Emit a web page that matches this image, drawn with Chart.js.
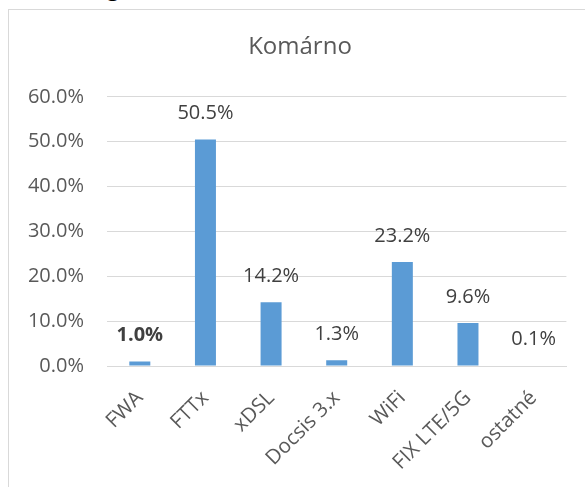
<!DOCTYPE html>
<html>
<head>
<meta charset="utf-8">
<script src="https://cdn.jsdelivr.net/npm/chart.js@4/dist/chart.umd.min.js"></script>
<style>
  html,body{margin:0;padding:0;background:#fff;overflow:hidden;width:585px;height:487px;}
  #frame{position:absolute;left:8px;top:9px;width:700px;height:600px;border:1px solid #d9d9d9;box-sizing:border-box;}
  #cut{position:absolute;left:107px;top:-28px;font-family:"Open Sans",sans-serif;font-size:22px;line-height:30px;color:#000;}
  #c{position:absolute;left:0;top:0;}
</style>
</head>
<body>
<div id="cut">g</div>
<div id="frame"></div>
<canvas id="c" width="571" height="487"></canvas>
<script>
const categories = ["FWA", "FTTx", "xDSL", "Docsis 3.x", "WiFi", "FIX LTE/5G", "ostatné"];
const shares = [1.0, 50.5, 14.2, 1.3, 23.2, 9.6, 0.1];
const boldLabels = [true, false, false, false, false, false, false];
const chartTitle = "Komárno";

const FONT = "'Open Sans', sans-serif";

const valueLabels = {
  id: 'valueLabels',
  afterDatasetsDraw(chart) {
    const ctx = chart.ctx;
    const meta = chart.getDatasetMeta(0);
    ctx.save();
    ctx.textAlign = 'center';
    ctx.textBaseline = 'middle';
    ctx.fillStyle = '#404040';
    meta.data.forEach((bar, i) => {
      ctx.font = (boldLabels[i] ? 'bold ' : '') + '20px ' + FONT;
      ctx.fillText(shares[i].toFixed(1) + '%', bar.x, bar.y - 26);
    });
    ctx.restore();
  }
};

const titleShift = {
  id: 'titleShift',
  afterLayout(chart) {
    if (chart.titleBlock) {
      chart.titleBlock.left = 36;
      chart.titleBlock.right = 564;
      chart.titleBlock.width = 528;
    }
  }
};

new Chart(document.getElementById('c'), {
  type: 'bar',
  data: {
    labels: categories,
    datasets: [{
      data: shares,
      backgroundColor: '#5b9bd5',
      barPercentage: 0.32,
      categoryPercentage: 1.0
    }]
  },
  options: {
    responsive: false,
    animation: false,
    devicePixelRatio: 1,
    layout: { padding: { top: 18, left: 0, right: 0, bottom: 0 } },
    plugins: {
      legend: { display: false },
      tooltip: { enabled: false },
      title: {
        display: true,
        text: chartTitle,
        color: '#595959',
        font: { family: FONT, size: 24, weight: 'normal' },
        padding: { top: 15, bottom: 35 }
      }
    },
    scales: {
      x: {
        grid: { display: false, drawTicks: false },
        border: { display: true, color: '#d9d9d9', width: 1 },
        ticks: {
          color: '#595959',
          font: { family: FONT, size: 20.5 },
          minRotation: 45,
          maxRotation: 45,
          padding: 20
        },
        afterFit(scale) { scale.height = 121; }
      },
      y: {
        min: 0,
        max: 60,
        grid: { color: '#d9d9d9', lineWidth: 1, drawTicks: false },
        border: { display: false },
        ticks: {
          stepSize: 10,
          color: '#595959',
          font: { family: FONT, size: 20 },
          padding: 23,
          callback: (v) => v.toFixed(1) + '%'
        },
        afterFit(scale) { scale.width = 107; }
      }
    }
  },
  plugins: [valueLabels, titleShift]
});
</script>
</body>
</html>
